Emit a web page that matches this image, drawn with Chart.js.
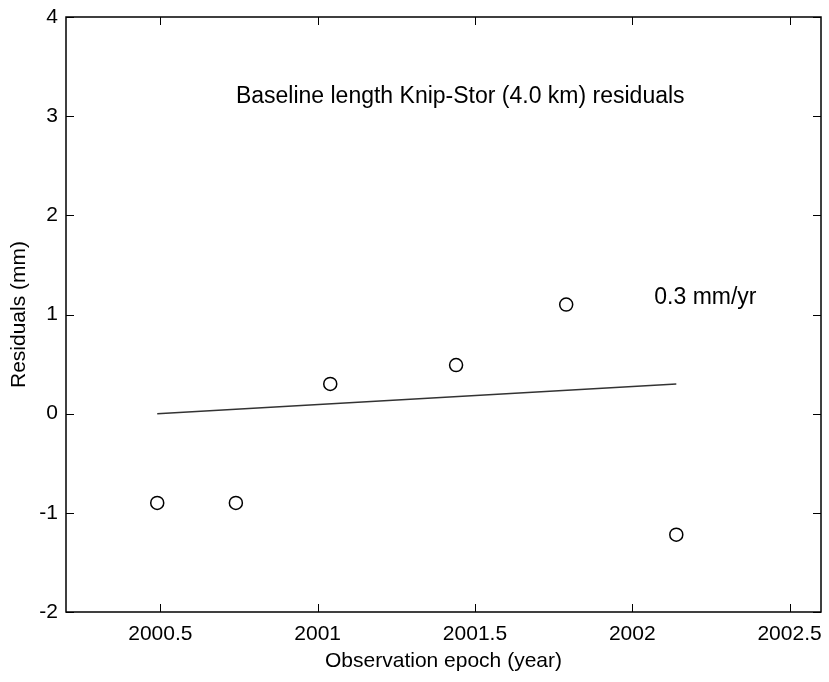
<!DOCTYPE html>
<html>
<head>
<meta charset="utf-8">
<script src="https://cdn.jsdelivr.net/npm/chart.js@4.4.1/dist/chart.umd.min.js"></script>
<style>
  html, body { margin: 0; padding: 0; background: #fff; }
  #wrap { width: 829px; height: 682px; }
</style>
</head>
<body>
<div id="wrap"><canvas id="resChart" width="829" height="682"></canvas></div>
<script>
// 观测历元（年）与残差（mm）
const EPOCHS = [2000.49, 2000.74, 2001.04, 2001.44, 2001.79, 2002.14];
const RESIDUALS = [-0.9, -0.9, 0.3, 0.49, 1.1, -1.22];

// 拟合直线的两个端点
const TREND_X = [2000.49, 2002.14];
const TREND_Y = [0.0, 0.3];

const X_TICKS = [2000.5, 2001, 2001.5, 2002, 2002.5];
const Y_TICKS = [-2, -1, 0, 1, 2, 3, 4];

const TITLE_TEXT = 'Baseline length Knip-Stor (4.0 km) residuals';
const RATE_TEXT = '0.3 mm/yr';

const FONT = 'Arial, "Liberation Sans", Helvetica, sans-serif';
const FS = 21;

// 外框 + 向内的刻度线 + 图中文字
const framePlugin = {
  id: 'frame',
  afterDraw(chart) {
    const { ctx, chartArea: a, scales } = chart;
    ctx.save();
    ctx.strokeStyle = '#000';
    ctx.lineWidth = 1.5;
    ctx.strokeRect(a.left, a.top, a.right - a.left, a.bottom - a.top);

    ctx.lineWidth = 1;
    X_TICKS.forEach(v => {
      const px = Math.round(scales.x.getPixelForValue(v)) + 0.5;
      ctx.beginPath();
      ctx.moveTo(px, a.bottom); ctx.lineTo(px, a.bottom - 8);
      ctx.moveTo(px, a.top); ctx.lineTo(px, a.top + 8);
      ctx.stroke();
    });
    Y_TICKS.forEach(v => {
      const py = Math.round(scales.y.getPixelForValue(v)) + 0.5;
      ctx.beginPath();
      ctx.moveTo(a.left, py); ctx.lineTo(a.left + 8, py);
      ctx.moveTo(a.right, py); ctx.lineTo(a.right - 8, py);
      ctx.stroke();
    });

    ctx.fillStyle = '#000';
    ctx.font = '23px ' + FONT;
    ctx.textBaseline = 'middle';
    ctx.textAlign = 'left';
    ctx.fillText(TITLE_TEXT, scales.x.getPixelForValue(2000.74), scales.y.getPixelForValue(3.2));
    ctx.fillText(RATE_TEXT, scales.x.getPixelForValue(2002.07), scales.y.getPixelForValue(1.17));
    ctx.restore();
  }
};

const ctx = document.getElementById('resChart').getContext('2d');
new Chart(ctx, {
  type: 'scatter',
  data: {
    datasets: [
      {
        type: 'line',
        label: 'trend',
        data: TREND_X.map((x, i) => ({ x, y: TREND_Y[i] })),
        borderColor: '#333',
        borderWidth: 1.5,
        pointRadius: 0,
        fill: false
      },
      {
        label: 'residuals',
        data: EPOCHS.map((x, i) => ({ x, y: RESIDUALS[i] })),
        pointStyle: 'circle',
        pointRadius: 6.5,
        borderColor: '#000',
        borderWidth: 1.5,
        backgroundColor: '#fff'
      }
    ]
  },
  options: {
    responsive: false,
    animation: false,
    layout: { padding: { top: 17, right: 7, left: 0, bottom: 0 } },
    plugins: {
      legend: { display: false },
      tooltip: { enabled: false }
    },
    scales: {
      x: {
        type: 'linear',
        min: 2000.2,
        max: 2002.6,
        afterBuildTicks: s => { s.ticks = X_TICKS.map(v => ({ value: v })); },
        afterFit: s => { s.height = 70; s.paddingLeft = 0; s.paddingRight = 0; },
        grid: { display: false, drawTicks: false },
        border: { display: false },
        ticks: {
          color: '#000',
          padding: 10,
          font: { family: FONT, size: FS },
          callback: v => String(v)
        },
        title: {
          display: true,
          text: 'Observation epoch (year)',
          color: '#000',
          font: { family: FONT, size: FS },
          padding: { top: 8, bottom: 8 }
        }
      },
      y: {
        type: 'linear',
        min: -2,
        max: 4,
        afterBuildTicks: s => { s.ticks = Y_TICKS.map(v => ({ value: v })); },
        afterFit: s => { s.width = 66; s.paddingTop = 0; s.paddingBottom = 0; },
        grid: { display: false, drawTicks: false },
        border: { display: false },
        ticks: {
          color: '#000',
          padding: 8,
          font: { family: FONT, size: FS },
          callback: v => String(v)
        },
        title: {
          display: true,
          text: 'Residuals (mm)',
          color: '#000',
          font: { family: FONT, size: FS },
          padding: { top: 7, bottom: 0 }
        }
      }
    }
  },
  plugins: [framePlugin]
});
</script>
</body>
</html>
